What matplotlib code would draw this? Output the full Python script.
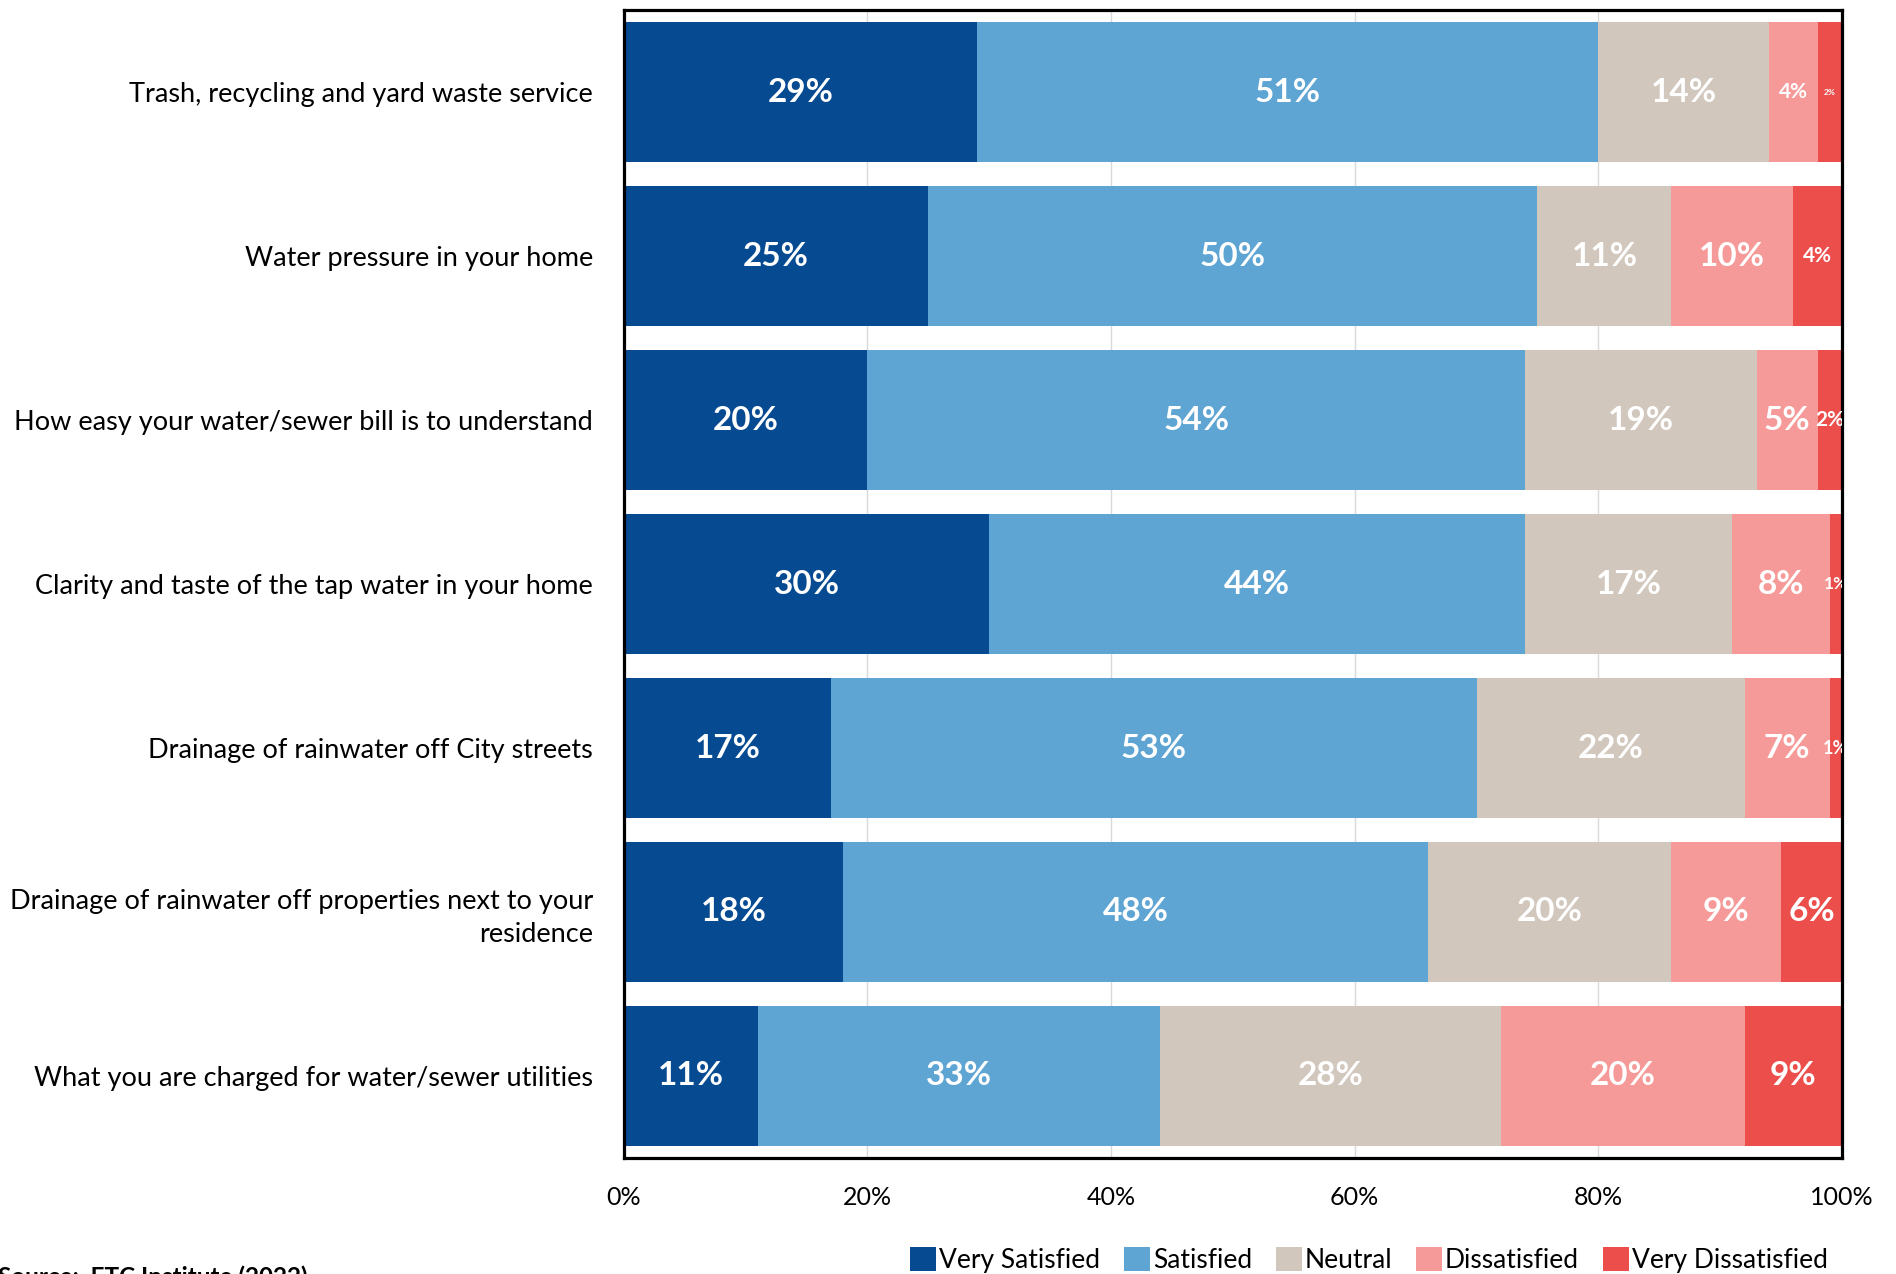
import matplotlib.pyplot as plt
import numpy as np

# Survey items, top to bottom
categories = [
    "Trash, recycling and yard waste service",
    "Water pressure in your home",
    "How easy your water/sewer bill is to understand",
    "Clarity and taste of the tap water in your home",
    "Drainage of rainwater off City streets",
    "Drainage of rainwater off properties next to your\nresidence",
    "What you are charged for water/sewer utilities",
]

levels = ["Very Satisfied", "Satisfied", "Neutral", "Dissatisfied", "Very Dissatisfied"]

very_satisfied = [29, 25, 20, 30, 17, 18, 11]
satisfied = [51, 50, 54, 44, 53, 48, 33]
neutral = [14, 11, 19, 17, 22, 20, 28]
dissatisfied = [4, 10, 5, 8, 7, 9, 20]
very_dissatisfied = [2, 4, 2, 1, 1, 6, 9]

colors = ["#064A91", "#5FA5D3", "#D1C7BD", "#F59A98", "#EB4E4B"]

# smaller labels on the thin segments (row, segment) -> font size
small_labels = {(0, 3): 15, (0, 4): 6, (1, 4): 15, (2, 4): 15, (3, 4): 12.5, (4, 4): 13}

plt.rcParams['font.family'] = ['Lato', 'DejaVu Sans']

series = [very_satisfied, satisfied, neutral, dissatisfied, very_dissatisfied]
n = len(categories)
y = np.arange(n)

fig = plt.figure(figsize=(18.96, 12.74), dpi=100)
ax = fig.add_axes([0.329, 0.0911, 0.6425, 0.9009])

left = np.zeros(n)
for j, (vals, name, col) in enumerate(zip(series, levels, colors)):
    vals = np.array(vals, dtype=float)
    ax.barh(y, vals, left=left, height=0.855, color=col, label=name, zorder=2)
    for i in range(n):
        lo = left[i]
        hi = min(left[i] + vals[i], 100)
        ax.text((lo + hi) / 2, y[i], f"{int(vals[i])}%", ha='center', va='center',
                color='white', fontweight='bold', fontsize=small_labels.get((i, j), 24),
                zorder=3, clip_on=True)
    left += vals

ax.set_xlim(0, 100)
ax.set_ylim(n - 0.5, -0.5)
ax.set_yticks(y)
ax.set_yticklabels(categories, fontsize=19.5, ha='right', linespacing=1.4)
ax.set_xticks(np.arange(0, 101, 20))
ax.set_xticklabels([f"{v}%" for v in range(0, 101, 20)], fontsize=18)
ax.tick_params(axis='both', length=0)
ax.tick_params(axis='y', pad=22)
ax.tick_params(axis='x', pad=20)
ax.grid(axis='x', color='#D9D9D9', linewidth=1, zorder=0)
ax.set_axisbelow(True)
for s in ax.spines.values():
    s.set_color('black')
    s.set_linewidth(2.3)

ax.legend(loc='center right', bbox_to_anchor=(0.964, 0.011), bbox_transform=fig.transFigure,
          ncol=5, frameon=False, fontsize=19, handlelength=1.0, handleheight=1.0,
          handletextpad=0.1, columnspacing=0.9, borderpad=0, borderaxespad=0)

fig.text(-0.001, 0.007, "Source:  ETC Institute (2022)", fontsize=17.5, fontweight='bold',
         ha='left', va='top')

fig.savefig("out.png", dpi=100)
